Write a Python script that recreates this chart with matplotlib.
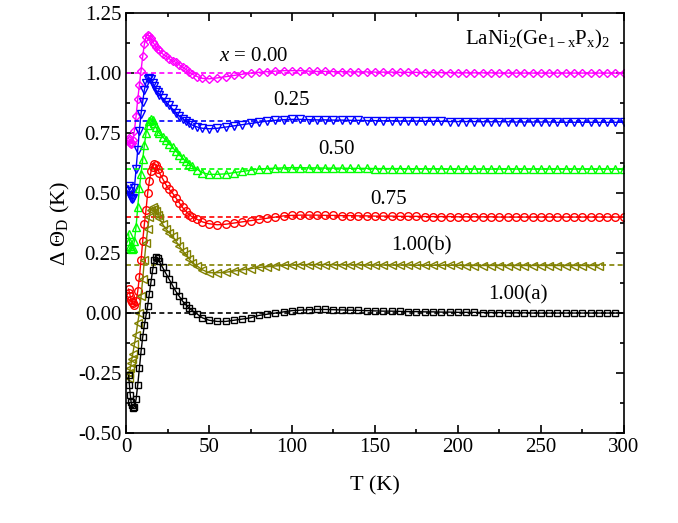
import matplotlib
matplotlib.use("Agg")
import matplotlib.pyplot as plt
from matplotlib.ticker import MultipleLocator

plt.rcParams['font.family'] = ['Liberation Serif', 'DejaVu Serif']
plt.rcParams['mathtext.fontset'] = 'custom'
plt.rcParams['mathtext.rm'] = 'Liberation Serif'
plt.rcParams['mathtext.it'] = 'Liberation Serif:italic'

# temperatures (K)
t_low = [1.5, 2, 2.5, 3, 3.5, 4, 5, 6, 7, 8, 9, 10, 11, 12, 13, 14, 15, 16, 17, 18, 19, 20,
         22, 24, 26, 28, 30, 32, 34, 36, 38, 40, 43, 46, 50]
t_high = list(range(55, 305, 5))
temps = t_low + t_high

d_000 = [0.73, 0.72, 0.71, 0.705, 0.71, 0.72, 0.76, 0.82, 0.89, 0.95, 1.01, 1.07, 1.12, 1.15, 1.16,
         1.155, 1.145, 1.13, 1.12, 1.11, 1.10, 1.095, 1.08, 1.07, 1.06, 1.05, 1.045, 1.035, 1.025,
         1.015, 1.005, 0.995, 0.985, 0.978, 0.976,
         0.98, 0.985, 0.99, 0.995, 1.0, 1.003, 1.006, 1.008, 1.01, 1.01, 1.01, 1.008,
         1.007, 1.007, 1.006, 1.006, 1.005, 1.005, 1.005, 1.004, 1.004, 1.004, 1.003, 1.003, 1.003,
         1.002, 1.002, 1.002, 1.002, 1.001, 1.001, 1.001, 1.001, 1.001, 1.0, 1.0, 1.0, 1.0, 1.0,
         1.0, 1.0, 1.0, 1.0, 1.0, 1.0, 1.0, 1.0, 1.0, 1.0, 1.0]
d_025 = [0.53, 0.51, 0.49, 0.48, 0.475, 0.48, 0.52, 0.60, 0.68, 0.76, 0.83, 0.88, 0.93, 0.96, 0.975,
         0.98, 0.975, 0.96, 0.945, 0.93, 0.92, 0.91, 0.895, 0.88, 0.865, 0.85, 0.835, 0.82, 0.81,
         0.80, 0.79, 0.783, 0.775, 0.77, 0.768,
         0.77, 0.775, 0.78, 0.785, 0.79, 0.795, 0.80, 0.803, 0.806, 0.807, 0.807, 0.806,
         0.805, 0.805, 0.804, 0.804, 0.803, 0.803, 0.802, 0.802, 0.801, 0.801, 0.800, 0.800, 0.800,
         0.799, 0.799, 0.799, 0.798, 0.798, 0.798, 0.798, 0.797, 0.797, 0.797, 0.797, 0.796, 0.796,
         0.796, 0.796, 0.796, 0.795, 0.795, 0.795, 0.795, 0.795, 0.795, 0.795, 0.795, 0.795, 0.795]
d_050 = [0.33, 0.30, 0.28, 0.27, 0.265, 0.27, 0.30, 0.36, 0.44, 0.52, 0.58, 0.64, 0.70, 0.75, 0.785,
         0.80, 0.81, 0.805, 0.79, 0.775, 0.76, 0.75, 0.735, 0.72, 0.705, 0.69, 0.675, 0.66, 0.645,
         0.632, 0.622, 0.612, 0.598, 0.585, 0.578,
         0.578, 0.58, 0.585, 0.59, 0.595, 0.60, 0.602, 0.604, 0.605, 0.606, 0.606, 0.605,
         0.605, 0.604, 0.604, 0.604, 0.603, 0.603, 0.603, 0.602, 0.602, 0.602, 0.602, 0.601, 0.601,
         0.601, 0.601, 0.601, 0.600, 0.600, 0.600, 0.600, 0.600, 0.600, 0.600, 0.600, 0.600, 0.600,
         0.600, 0.600, 0.600, 0.600, 0.600, 0.600, 0.600, 0.600, 0.600, 0.600, 0.600, 0.600]
d_075 = [0.10, 0.085, 0.07, 0.055, 0.045, 0.04, 0.035, 0.05, 0.09, 0.15, 0.22, 0.30, 0.37, 0.43, 0.50,
         0.55, 0.59, 0.61, 0.62, 0.615, 0.60, 0.585, 0.56, 0.535, 0.515, 0.50, 0.48, 0.46, 0.44,
         0.425, 0.41, 0.40, 0.39, 0.38, 0.372,
         0.368, 0.37, 0.375, 0.38, 0.385, 0.39, 0.395, 0.40, 0.405, 0.407, 0.408, 0.408,
         0.408, 0.407, 0.407, 0.406, 0.406, 0.405, 0.405, 0.404, 0.404, 0.404, 0.403, 0.403, 0.403,
         0.402, 0.402, 0.402, 0.402, 0.401, 0.401, 0.401, 0.401, 0.401, 0.400, 0.400, 0.400, 0.400,
         0.400, 0.400, 0.400, 0.400, 0.400, 0.400, 0.400, 0.400, 0.400, 0.400, 0.400, 0.400]
d_100b = [-0.27, -0.25, -0.23, -0.21, -0.19, -0.17, -0.13, -0.09, -0.04, 0.0, 0.07, 0.14, 0.22, 0.29,
          0.35, 0.40, 0.43, 0.44, 0.435, 0.425, 0.41, 0.395, 0.37, 0.35, 0.335, 0.32, 0.30, 0.28,
          0.26, 0.245, 0.225, 0.21, 0.195, 0.18, 0.168,
          0.168, 0.17, 0.175, 0.18, 0.185, 0.19, 0.193, 0.196, 0.199, 0.2, 0.202, 0.202,
          0.202, 0.202, 0.201, 0.201, 0.201, 0.201, 0.200, 0.200, 0.200, 0.200, 0.200, 0.200, 0.199,
          0.199, 0.199, 0.199, 0.199, 0.199, 0.198, 0.198, 0.198, 0.198, 0.198, 0.198, 0.198, 0.198,
          0.198, 0.198, 0.198, 0.198, 0.198, 0.198, 0.198, 0.198, 0.198]
d_100a = [-0.26, -0.30, -0.34, -0.37, -0.385, -0.395, -0.39, -0.36, -0.30, -0.23, -0.16, -0.10, -0.05,
          -0.01, 0.03, 0.08, 0.13, 0.18, 0.22, 0.235, 0.23, 0.215, 0.19, 0.165, 0.14, 0.115, 0.09,
          0.07, 0.05, 0.035, 0.02, 0.01, -0.005, -0.02, -0.03,
          -0.035, -0.035, -0.03, -0.025, -0.02, -0.01, -0.005, 0.0, 0.005, 0.01, 0.012, 0.014,
          0.015, 0.015, 0.014, 0.013, 0.012, 0.011, 0.01, 0.009,
          0.008, 0.008, 0.007, 0.006, 0.006, 0.005, 0.005, 0.004, 0.004, 0.003, 0.003, 0.003, 0.002,
          0.002, 0.002, 0.001, 0.001, 0.001, 0.0, 0.0, 0.0, 0.0, 0.0, 0.0, 0.0, 0.0, 0.0, 0.0, 0.0]

series = [
    (d_000, 1.0, '#ff00ff', 'D', 4.5),
    (d_025, 0.8, '#0000ff', 'v', 6),
    (d_050, 0.6, '#00ff00', '^', 6),
    (d_075, 0.4, '#ff0000', 'o', 5.5),
    (d_100b, 0.2, '#808000', '<', 6),
    (d_100a, 0.0, '#000000', 's', 4.5),
]

fig = plt.figure(figsize=(6.78, 5.23), dpi=100)
ax = fig.add_axes([0.186, 0.172, 0.734, 0.803])

for vals, base, col, mk, ms in series:
    ax.axhline(base, color=col, ls='--', lw=1.2, dashes=(3, 2))
    n = min(len(temps), len(vals))
    ax.plot(temps[:n], vals[:n], color=col, marker=mk, ms=ms, mfc='none', mew=1, lw=1)

ax.text(77, 1.05, r'$x$ = 0.00', fontsize=15, ha='center')
ax.text(100, 0.865, '0.25', fontsize=15, ha='center')
ax.text(127, 0.662, '0.50', fontsize=15, ha='center')
ax.text(158, 0.455, '0.75', fontsize=15, ha='center')
ax.text(178, 0.26, '1.00(b)', fontsize=15, ha='center')
ax.text(236, 0.055, '1.00(a)', fontsize=15, ha='center')
ax.text(292, 1.12, r'$\mathrm{LaNi_2(Ge_{1-x}P_x)_2}$', fontsize=15, ha='right')

ax.set_xlim(0, 300)
ax.set_ylim(-0.5, 1.25)
ax.xaxis.set_major_locator(MultipleLocator(50))
ax.xaxis.set_minor_locator(MultipleLocator(25))
ax.yaxis.set_major_locator(MultipleLocator(0.25))
ax.yaxis.set_minor_locator(MultipleLocator(0.125))
ax.yaxis.set_major_formatter(plt.FormatStrFormatter('%.2f'))
ax.tick_params(which='both', direction='in', top=True, right=True, labelsize=15, width=1.2)
ax.tick_params(which='major', length=6)
ax.tick_params(which='minor', length=3)
for s in ax.spines.values():
    s.set_linewidth(1.2)
ax.set_xlabel('T (K)', fontsize=16, labelpad=14)
ax.set_ylabel(r'$\Delta\ \Theta_\mathrm{D}$ (K)', fontsize=16)

fig.savefig('out.png', dpi=100)
